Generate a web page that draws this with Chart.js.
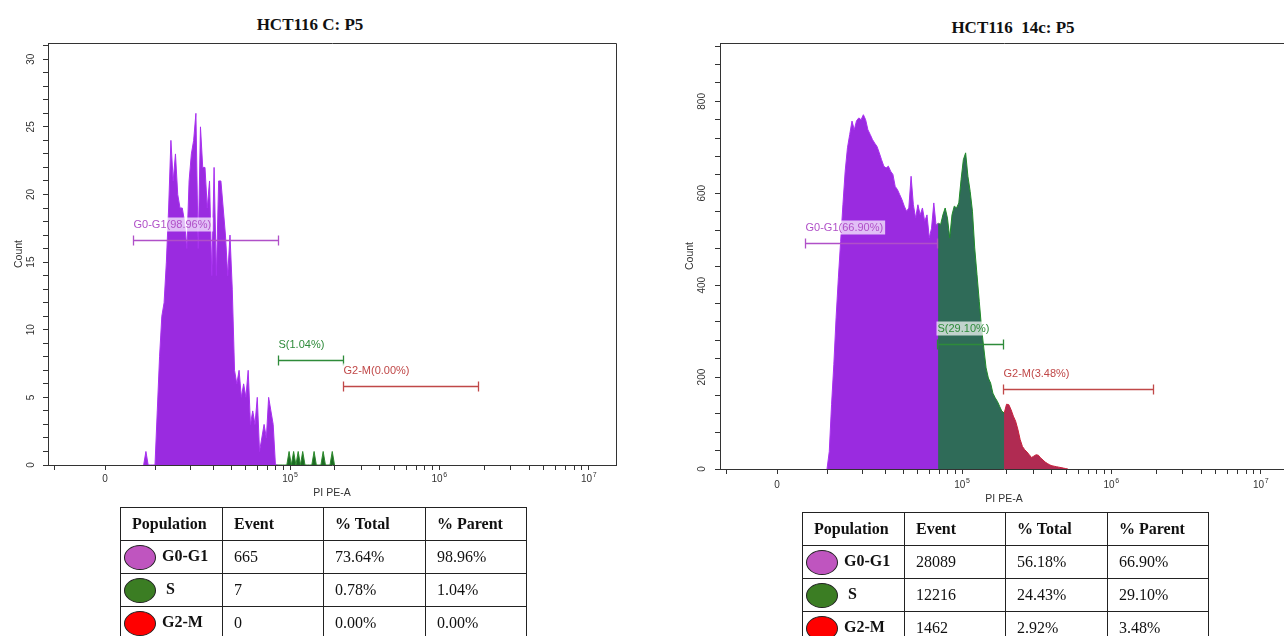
<!DOCTYPE html>
<html>
<head>
<meta charset="utf-8">
<script src="https://cdn.jsdelivr.net/npm/chart.js@4.4.1/dist/chart.umd.min.js"></script>
<style>
  html, body { margin: 0; padding: 0; background: #fff; overflow: hidden; }
  body { width: 1284px; height: 636px; position: relative; }
  .title { position: absolute; font: bold 17px "Liberation Serif", "Times New Roman", serif; line-height: 20px; color: #111; white-space: pre; transform: translateX(-50%); }
  .plot { position: absolute; }
  table { position: absolute; border-collapse: collapse; table-layout: fixed; font: 16px "Liberation Serif", "Times New Roman", serif; color: #111; }
  td, th { border: 1px solid #222; height: 32px; padding: 0 0 0 11px; text-align: left; white-space: nowrap; }
  th { font-weight: bold; }
  td.pop { padding-left: 3px; font-weight: bold; }
  .dot { display: inline-block; width: 30px; height: 23px; border-radius: 50%; border: 1.5px solid #222; vertical-align: middle; margin-right: 6px; }
</style>
</head>
<body>
<div class="title" id="titleC" style="left:310px; top:15px;"></div>
<div class="title" id="titleT" style="left:1013px; top:18px;"></div>
<div class="plot" style="left:0; top:0; width:640px; height:510px;"><canvas id="chartC"></canvas></div>
<div class="plot" style="left:672px; top:0; width:640px; height:514px;"><canvas id="chartT"></canvas></div>
<table id="tableC" style="left:120px; top:507px;"></table>
<table id="tableT" style="left:802px; top:512px;"></table>
<script>
// PI PE-A axis uses an arcsinh (biexponential) display transform
const BIEX_WIDTH = 11614;
const BIN_STEP = 0.035; // histogram bin width in display units
const X_MIN = -0.878, X_MAX = 7.87;

const xTickValues = [-1e4, 0, 1e4, 2e4, 3e4, 4e4, 5e4, 6e4, 7e4, 8e4, 9e4,
  1e5, 2e5, 3e5, 4e5, 5e5, 6e5, 7e5, 8e5, 9e5,
  1e6, 2e6, 3e6, 4e6, 5e6, 6e6, 7e6, 8e6, 9e6, 1e7];
// major ticks: [value, base, exponent]
const xMajorValues = [0, 1e5, 1e6, 1e7];
const xMajorBase = ['0', '10', '10', '10'];
const xMajorExp = ['', '5', '6', '7'];

const populations = ['G0-G1', 'S', 'G2-M'];
const popDotColors = ['#bf55bf', '#3b7d23', '#ff0000'];

// control sample
const ctrlTitle = 'HCT116 C: P5';
const ctrlFirstBin = 17;
const ctrlCounts = [0, 1, 0, 0, 0, 0,
  4, 8, 11, 12, 15, 19, 24, 21, 23, 20, 19, 19, 18, 16, 21, 23, 24, 26, 16, 25,
  22, 22, 19, 21, 14, 22, 14, 21, 21, 19, 17, 14, 17, 13, 7, 6, 7, 5, 6, 5,
  7, 3, 4, 3, 5, 1, 2, 3, 2, 5, 4, 3, 0,
  0, 0, 0, 0, 0, 1, 0, 1, 0, 1, 0, 1, 0, 0, 0, 0, 1, 0, 0, 0, 1, 0, 0, 0, 1, 0];
const ctrlGateLow = [5163, 83400, 226500];
const ctrlGateHigh = [83400, 226500, 1820000];
const ctrlGateLevel = [16.6, 7.8, 5.85];
const ctrlEvents = [665, 7, 0];
const ctrlTotal = ['73.64%', '0.78%', '0.00%'];
const ctrlParent = ['98.96%', '1.04%', '0.00%'];

// treated sample
const trtTitle = 'HCT116  14c: P5';
const trtFirstBin = 22;
const trtCounts = [0, 38, 140, 227, 329, 416, 495, 575, 648, 699, 728, 757, 738, 758, 764, 760, 771,
  760, 738, 728, 717, 709, 702, 688, 673, 659, 655, 659, 648, 641, 615, 608, 597, 586, 572,
  561, 568, 637, 575, 546, 575, 553, 568, 539, 553, 503, 524, 579, 530,
  535, 532, 553, 568, 546, 503, 553, 572, 568, 579, 630, 673, 688, 637, 604, 561, 481, 423,
  365, 307, 263, 220, 198, 187, 165, 155, 147, 136, 125, 122,
  141, 140, 129, 115, 104, 86, 64, 49, 42, 37, 31, 25, 28, 31, 30, 24, 20, 15, 12, 9, 7,
  6, 5, 4, 3, 2, 1, 0];
const trtGateLow = [5163, 68070, 189200];
const trtGateHigh = [68070, 189200, 1894000];
const trtGateLevel = [492, 272, 173];
const trtEvents = [28089, 12216, 1462];
const trtTotal = ['56.18%', '24.43%', '2.92%'];
const trtParent = ['66.90%', '29.10%', '3.48%'];

const gateColors = ['#b050c8', '#2e8b3a', '#c04848'];

function toT(v) { return Math.asinh(v / BIEX_WIDTH); }

function histPoints(firstBin, counts) {
  return counts.map((c, i) => ({ x: (firstBin + i) * BIN_STEP, y: c }));
}

// bins of one gate; one extra bin on the left so it tucks under the previous gate's fill
function inGate(points, lo, hi) {
  const a = toT(lo) - BIN_STEP * 1.5, b = toT(hi) + BIN_STEP / 2;
  return points.filter(p => p.x >= a && p.x <= b);
}

function gatePlugin(low, high, level, parent) {
  return {
    id: 'gates',
    afterDatasetsDraw(chart) {
      const ctx = chart.ctx;
      const x = chart.scales.x, y = chart.scales.y;
      ctx.save();
      ctx.font = '11px Arial, "Liberation Sans", sans-serif';
      ctx.textBaseline = 'middle';
      low.forEach((lo, i) => {
        const x0 = Math.round(x.getPixelForValue(toT(lo))) + 0.5;
        const x1 = Math.round(x.getPixelForValue(toT(high[i]))) + 0.5;
        const yy = Math.round(y.getPixelForValue(level[i])) + 0.5;
        ctx.strokeStyle = gateColors[i];
        ctx.lineWidth = 1.3;
        ctx.beginPath();
        ctx.moveTo(x0, yy); ctx.lineTo(x1, yy);
        ctx.moveTo(x0, yy - 5); ctx.lineTo(x0, yy + 5);
        ctx.moveTo(x1, yy - 5); ctx.lineTo(x1, yy + 5);
        ctx.stroke();
        const label = populations[i] + '(' + parent[i] + ')';
        const w = ctx.measureText(label).width;
        ctx.fillStyle = 'rgba(255,255,255,0.7)';
        ctx.fillRect(x0 - 1, yy - 23, w + 3, 14);
        ctx.fillStyle = gateColors[i];
        ctx.fillText(label, x0, yy - 16);
      });
      ctx.restore();
    }
  };
}

// decade labels with a real superscript, placed at the scale's tick pixels
function decadeLabelPlugin(offset) {
  return {
    id: 'decades',
    afterDraw(chart) {
      const { ctx } = chart;
      const x = chart.scales.x;
      const yBase = chart.chartArea.bottom + offset;
      ctx.save();
      ctx.fillStyle = '#333';
      ctx.textBaseline = 'middle';
      ctx.textAlign = 'left';
      xMajorValues.forEach((v, i) => {
        const px = x.getPixelForValue(toT(v));
        ctx.font = '10px Arial, "Liberation Sans", sans-serif';
        const wb = ctx.measureText(xMajorBase[i]).width;
        ctx.font = '7px Arial, "Liberation Sans", sans-serif';
        const we = xMajorExp[i] ? ctx.measureText(xMajorExp[i]).width + 0.5 : 0;
        const left = px - (wb + we) / 2;
        ctx.font = '10px Arial, "Liberation Sans", sans-serif';
        ctx.fillText(xMajorBase[i], left, yBase);
        if (xMajorExp[i]) {
          ctx.font = '7px Arial, "Liberation Sans", sans-serif';
          ctx.fillText(xMajorExp[i], left + wb + 0.5, yBase - 4);
        }
      });
      ctx.restore();
    }
  };
}

const framePlugin = {
  id: 'frame',
  afterDraw(chart) {
    const { ctx, chartArea: a } = chart;
    ctx.save();
    ctx.strokeStyle = '#333';
    ctx.lineWidth = 1;
    ctx.beginPath();
    ctx.moveTo(Math.round(a.left) + 0.5, Math.round(a.top) + 0.5);
    ctx.lineTo(Math.round(a.right) + 0.5, Math.round(a.top) + 0.5);
    ctx.lineTo(Math.round(a.right) + 0.5, Math.round(a.bottom) + 0.5);
    ctx.stroke();
    ctx.restore();
  }
};

function makeChart(id, s) {
  const pts = histPoints(s.firstBin, s.counts);
  const datasets = s.low.map((lo, i) => ({
    data: inGate(pts, lo, s.high[i]),
    fill: 'origin',
    backgroundColor: s.fills[i],
    borderColor: s.lines[i],
    borderWidth: 1,
    pointRadius: 0,
    tension: 0
  }));
  const tickFont = { family: 'Arial, "Liberation Sans", sans-serif', size: 10 };
  const titleFont = { family: 'Arial, "Liberation Sans", sans-serif', size: 10.5 };
  return new Chart(document.getElementById(id), {
    type: 'line',
    data: { datasets },
    options: {
      responsive: true,
      maintainAspectRatio: false,
      animation: false,
      layout: { padding: { left: 0, top: 43, right: 24, bottom: 0 } },
      plugins: { legend: { display: false }, tooltip: { enabled: false } },
      scales: {
        x: {
          type: 'linear',
          min: X_MIN,
          max: X_MAX,
          afterFit: sc => { sc.height = 45; },
          afterBuildTicks: sc => { sc.ticks = xTickValues.map(v => ({ value: toT(v) })); },
          ticks: {
            autoSkip: false, maxRotation: 0, color: '#333', font: tickFont,
            callback: () => ''
          },
          grid: { drawOnChartArea: false, tickLength: 5, color: '#333' },
          border: { color: '#333' },
          title: { display: true, text: 'PI PE-A', color: '#333', font: titleFont, padding: { top: 0, bottom: s.xTitlePad } }
        },
        y: {
          min: 0,
          max: s.yMax,
          afterFit: sc => { sc.width = 48; },
          ticks: {
            stepSize: s.yStep, includeBounds: false, autoSkip: false,
            minRotation: 90, maxRotation: 90, crossAlign: 'center', padding: s.yTickPad,
            color: '#333', font: tickFont,
            callback: v => (Math.round(v) % s.yLabelStep === 0 ? Math.round(v) : '')
          },
          grid: { drawOnChartArea: false, tickLength: 5, color: '#333' },
          border: { color: '#333' },
          title: { display: true, text: 'Count', color: '#333', font: titleFont, padding: { top: s.yTitlePad, bottom: 0 } }
        }
      }
    },
    plugins: [gatePlugin(s.low, s.high, s.level, s.parent), decadeLabelPlugin(s.xLabelOffset), framePlugin]
  });
}

function fillTable(id, events, total, parent) {
  let html = '<colgroup><col style="width:102px"><col style="width:101px"><col style="width:102px"><col style="width:101px"></colgroup>';
  html += '<tr><th>Population</th><th>Event</th><th>% Total</th><th>% Parent</th></tr>';
  populations.forEach((p, i) => {
    const extra = p === 'S' ? ' style="margin-right:10px"' : '';
    html += '<tr><td class="pop"><span class="dot"' + extra + ' data-c="' + i + '"></span>' + p + '</td>' +
      '<td>' + events[i] + '</td><td>' + total[i] + '</td><td>' + parent[i] + '</td></tr>';
  });
  const t = document.getElementById(id);
  t.innerHTML = html;
  t.querySelectorAll('.dot').forEach(d => { d.style.background = popDotColors[+d.dataset.c]; });
}

document.getElementById('titleC').textContent = ctrlTitle;
document.getElementById('titleT').textContent = trtTitle;

makeChart('chartC', {
  firstBin: ctrlFirstBin, counts: ctrlCounts,
  low: ctrlGateLow, high: ctrlGateHigh, level: ctrlGateLevel, parent: ctrlParent,
  fills: ['#9a2be0', '#1d6a24', '#b02b52'],
  lines: ['#a830f0', '#2e8b2e', '#c8203a'],
  yMax: 31.2, yStep: 1, yLabelStep: 5,
  yTickPad: 6, yTitlePad: 13, xLabelOffset: 14, xTitlePad: 11
});

makeChart('chartT', {
  firstBin: trtFirstBin, counts: trtCounts,
  low: trtGateLow, high: trtGateHigh, level: trtGateLevel, parent: trtParent,
  fills: ['#9a2be0', '#2f6b58', '#b02b52'],
  lines: ['#a830f0', '#1f8a2a', '#c8203a'],
  yMax: 927, yStep: 40, yLabelStep: 200,
  yTickPad: 4, yTitlePad: 12, xLabelOffset: 16, xTitlePad: 9
});

fillTable('tableC', ctrlEvents, ctrlTotal, ctrlParent);
fillTable('tableT', trtEvents, trtTotal, trtParent);
</script>
</body>
</html>
